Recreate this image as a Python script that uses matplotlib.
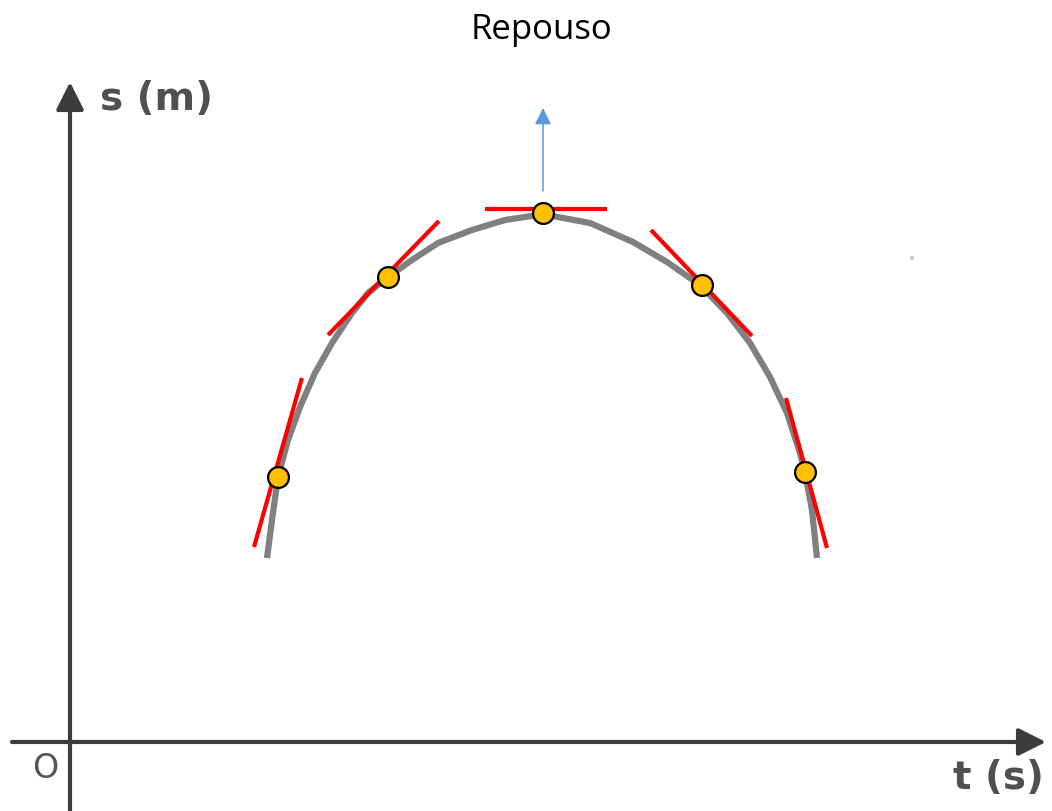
import matplotlib
matplotlib.use("Agg")
import matplotlib.pyplot as plt
from matplotlib.patches import FancyArrowPatch

# curve s(t) (arbitrary units, origin at O)
t_curve = [197, 202, 208, 218, 230, 245, 262, 282, 298, 318, 342, 368, 402, 435, 468,
           477, 520, 563, 597, 630, 657, 680, 700, 717, 730, 735, 742, 747]
s_curve = [184, 222, 265, 302, 335, 369, 399, 429, 449, 465, 482, 499, 512, 522, 527,
           527, 519, 500, 480, 457, 429, 399, 365, 329, 289, 269, 232, 184]

# points where the tangent is drawn
t_pts = [208, 318, 473, 632, 735]
s_pts = [265, 465, 529, 457, 270]

# tangent segments (start t, start s, end t, end s)
tan_t0 = [184, 258, 415, 581, 716]
tan_s0 = [195, 407, 533, 512, 344]
tan_t1 = [232, 369, 537, 682, 757]
tan_s1 = [364, 521, 533, 406, 194]

# velocity arrow at the top
vel_t = [473, 473]
vel_s = [551, 634]

title = "Repouso"
x_label = "t (s)"
y_label = "s (m)"

fig = plt.figure(figsize=(10.52, 8.11), dpi=100)
ax = fig.add_axes([0, 0, 1, 1])
ax.set_xlim(-70, 982)
ax.set_ylim(-69, 742)
ax.axis("off")

axis_col = "#3c3c3c"
# axes as arrows
for start, end in [((0, -69), (0, 660)), ((-58, 0), (976, 0))]:
    ax.add_patch(FancyArrowPatch(start, end, arrowstyle="-|>", mutation_scale=42,
                                 lw=3, color=axis_col, shrinkA=0, shrinkB=0))

ax.plot(t_curve, s_curve, color="#808080", lw=4.5, solid_capstyle="butt",
        solid_joinstyle="round", zorder=2)

for i in range(len(tan_t0)):
    ax.plot([tan_t0[i], tan_t1[i]], [tan_s0[i], tan_s1[i]], color="#ff0000", lw=3,
            solid_capstyle="butt", zorder=3)

ax.plot(t_pts, s_pts, "o", ms=15, mfc="#ffc000", mec="black", mew=1.6, zorder=4)

ax.add_patch(FancyArrowPatch((vel_t[0], vel_s[0]), (vel_t[1], vel_s[1]), arrowstyle="-|>",
                             mutation_scale=25, lw=1.1, color="#5b9bd5", shrinkA=0, shrinkB=0))

# faint speck on the right
ax.plot([842], [484], "s", ms=2.5, color="#d0d0d0", mew=0)

ax.text(30, 643, y_label, fontsize=28, fontweight="bold", color="#505050",
        ha="left", va="center", family="DejaVu Sans")
ax.text(928, -36, x_label, fontsize=28, fontweight="bold", color="#505050",
        ha="center", va="center", family="DejaVu Sans")
ax.text(-25, -26, "O", fontsize=24, color="#555555", ha="center", va="center",
        family="DejaVu Sans")

fig.text(541 / 1052, 1 - 30 / 811, title, fontsize=25, ha="center", va="center",
         family="Open Sans")

fig.savefig("out.png", dpi=100)
